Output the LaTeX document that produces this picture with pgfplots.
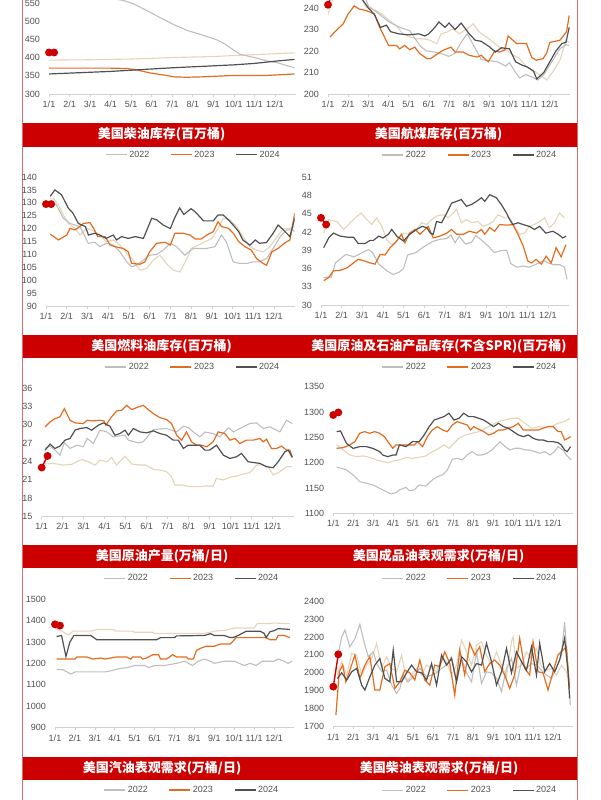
\documentclass[border=0pt]{standalone}
\usepackage{fontspec}
\setmainfont{Liberation Sans}
\newfontfamily\cjk{Noto Sans CJK SC}
\usepackage{pgfplots}
\pgfplotsset{compat=1.18}
\definecolor{c21}{RGB}{228,212,184}
\definecolor{c22}{RGB}{190,190,190}
\definecolor{c23}{RGB}{228,108,30}
\definecolor{c24}{RGB}{80,80,80}
\definecolor{c25}{RGB}{204,0,0}
\definecolor{barred}{RGB}{204,0,0}
\definecolor{lblgray}{RGB}{80,80,80}
\definecolor{axgray}{RGB}{210,210,210}
\definecolor{border}{RGB}{214,110,110}
\pgfplotsset{
  panel/.style={
    scale only axis, anchor=south west,
    xmin=0, xmax=12,
    axis lines*=left,
    y axis line style={draw=none},
    x axis line style={draw=axgray, line width=0.8pt},
    xtick style={draw=axgray, line width=0.6pt},
    ytick style={draw=none},
    tick align=outside,
    major tick length=2.5pt,
    xtick={0,...,11},
    xticklabels={1/1,2/1,3/1,4/1,5/1,6/1,7/1,8/1,9/1,10/1,11/1,12/1},
    tick label style={font=\fontsize{9}{10}\selectfont, text=lblgray},
    xticklabel style={anchor=base, inner sep=0pt, yshift=-10.8pt},
    yticklabel style={anchor=east, inner sep=0pt, xshift=-6.5pt},
    /pgf/number format/assume math mode=true,
    /pgf/number format/1000 sep={},
    scaled y ticks=false,
    legend style={draw=none, fill=none, inner sep=0pt, anchor=center,
      font=\fontsize{9}{10}\selectfont, text=lblgray,
      legend columns=3, /tikz/every even column/.append style={column sep=19pt}},
    legend image code/.code={\draw[##1, line width=1.1pt] (0pt,0pt) -- (21pt,0pt);},
  },
  s21/.style={color=c21, line width=1.1pt, forget plot},
  s22/.style={color=c22, line width=1.1pt},
  s23/.style={color=c23, line width=1.2pt},
  s24/.style={color=c24, line width=1.2pt},
  s25/.style={color=c25, line width=1.4pt, mark=*, mark size=3.2pt, mark options={fill=c25, draw=c25, solid}, forget plot},
}
\begin{document}
\begin{tikzpicture}
\path[use as bounding box] (0pt,0pt) rectangle (600pt,-800pt);
\clip (0pt,0pt) rectangle (600pt,-800pt);

% frame lines
\draw[border, line width=0.8pt] (22.5pt,0pt) -- (22.5pt,-800pt);
\draw[border, line width=0.8pt] (577pt,0pt) -- (577pt,-800pt);

% red title bars
\fill[barred] (23pt,-122.5pt) rectangle (577pt,-146.5pt);
\fill[barred] (23pt,-334.5pt) rectangle (577pt,-358pt);
\fill[barred] (23pt,-545pt) rectangle (577pt,-567.5pt);
\fill[barred] (23pt,-757pt) rectangle (577pt,-779.5pt);
\tikzset{ttl/.style={text=white, font=\cjk\bfseries\fontsize{13}{14}\selectfont, inner sep=0pt}}
\node[ttl] at (161.5pt,-134.5pt) {美国柴油库存(百万桶)};
\node[ttl] at (438.5pt,-134.5pt) {美国航煤库存(百万桶)};
\node[ttl] at (161.5pt,-346.5pt) {美国燃料油库存(百万桶)};
\node[ttl] at (439pt,-346.5pt) {美国原油及石油产品库存(不含SPR)(百万桶)};
\node[ttl] at (162pt,-556.5pt) {美国原油产量(万桶/日)};
\node[ttl] at (438.5pt,-556.5pt) {美国成品油表观需求(万桶/日)};
\node[ttl] at (162pt,-768pt) {美国汽油表观需求(万桶/日)};
\node[ttl] at (439pt,-768pt) {美国柴油表观需求(万桶/日)};

% ===== P1 diesel inventory
\begin{axis}[panel, at={(49pt,-94pt)}, width=246.5pt, height=127.5pt,
  ymin=300, ymax=650, ytick={300,350,...,550},
  legend style={at={(0.586,-0.478)}}]
\addplot[s21] coordinates {(0,393) (2,394) (4,396) (6,400) (8,403) (10,408) (11.95,413)};
\addplot[s22] coordinates {(0,612) (1,600) (2,585) (3,563) (3.6,557) (4.1,548) (4.9,525) (5.7,501) (6.1,490) (6.7,475) (7.4,463) (7.9,454) (8.2,448) (8.6,436) (9.0,420) (9.3,409) (10.0,400) (10.6,391) (11.1,386) (11.95,372)};
\addplot[s23] coordinates {(0,371) (3.0,371) (3.8,370) (4.3,366) (4.9,358) (5.7,351) (6.1,347) (6.7,346) (7.4,347) (8.2,349) (9.0,351) (10.6,351) (11.95,355)};
\addplot[s24] coordinates {(0,355) (3,362) (6,372) (9,380) (10,384) (11,390) (11.95,395)};
\addplot[s25] coordinates {(0,414) (0.25,414)};
\legend{2022,2023,2024}
\end{axis}

% ===== P2 jet fuel inventory
\begin{axis}[panel, at={(328pt,-94pt)}, width=242pt, height=129pt,
  ymin=200, ymax=260, ytick={200,210,...,240},
  legend style={at={(0.587,-0.473)}}]
\addplot[s21] coordinates {(0,237) (0.2,243) (0.5,250) (1.0,252) (1.5,247) (1.9,240.3) (2.4,238.8) (2.7,237) (3.05,234) (3.4,231.8) (3.7,228) (4.05,226.5) (4.4,225.7) (4.7,225.7) (5.05,225) (5.4,223.4) (5.6,228) (5.9,228.8) (6.2,230.3) (6.5,228) (6.9,230.3) (7.2,232.6) (7.5,228.8) (7.85,226.5) (8.2,224.2) (8.5,221.8) (8.85,220.3) (9.2,218) (9.5,216.5) (9.85,212.6) (10.2,211) (10.5,208.8) (10.85,206.5) (11.15,210.3) (11.5,215.7) (11.8,225) (11.95,224)};
\addplot[s22] coordinates {(0,255) (1,252) (1.8,246) (2.0,241) (2.56,237) (3.05,233.4) (3.55,231) (4.05,229.5) (4.3,226) (4.6,222) (4.9,220) (5.3,219.5) (5.7,218.5) (6.0,217.5) (6.3,219) (6.6,224) (6.9,228) (7.2,223) (7.6,216) (8.0,215.5) (8.4,215) (8.8,213) (9.0,214.5) (9.3,210) (9.5,207.5) (9.8,209) (10.1,208) (10.4,206.5) (10.7,209) (11.1,215) (11.5,221) (11.8,223) (11.95,222.5)};
\addplot[s23] coordinates {(0.1,226.5) (0.4,229.5) (0.75,232.6) (1.0,237.2) (1.3,241) (1.55,239.5) (1.9,238.8) (2.3,237.2) (2.56,231) (2.8,226.5) (3.0,222.6) (3.4,222.6) (3.55,221) (3.8,222.6) (4.05,220.6) (4.3,221.8) (4.55,218.8) (4.9,216.5) (5.1,216.5) (5.45,218.8) (5.7,220.3) (6.1,221.8) (6.3,219.5) (6.7,219.5) (7.0,218) (7.4,217.2) (7.6,218) (7.85,215.7) (7.95,215) (8.27,220) (8.5,219.5) (8.77,220.5) (8.93,227) (9.35,223.5) (9.84,223.5) (10.1,217) (10.34,215.7) (10.67,216.5) (10.84,219) (11.0,224) (11.5,225) (11.83,229) (11.96,236.5)};
\addplot[s24] coordinates {(0,252) (1,250) (1.7,244) (2.0,240) (2.3,237) (2.6,231) (2.9,232) (3.1,229) (3.5,228) (4.0,227.5) (4.5,228) (4.8,227) (5.0,228) (5.3,231) (5.5,233.5) (5.8,231) (6.0,233) (6.3,230) (6.6,233) (7.0,228) (7.3,225) (7.6,224.5) (8.0,222) (8.3,219.5) (8.6,221.5) (9.0,221) (9.3,215) (9.6,213.5) (9.9,212.5) (10.2,210.5) (10.35,207) (10.7,210) (11.0,215) (11.3,220) (11.6,223.5) (11.8,224) (11.96,231)};
\addplot[s25] coordinates {(0,241.5) (0.25,248)};
\legend{2022,2023,2024}
\end{axis}

% ===== P3 fuel oil inventory
\begin{axis}[panel, at={(46pt,-306pt)}, width=248.7pt, height=129pt,
  ymin=90, ymax=140, ytick={90,95,...,140},
  legend style={at={(0.591,-0.473)}}]
\addplot[s21] coordinates {(0.2,131.8) (0.35,131.8) (0.6,129.2) (0.84,125.3) (1.08,122) (1.4,120.1) (1.64,117.5) (1.96,120.1) (2.2,119.5) (2.6,117.5) (2.9,114.9) (3.25,115.6) (3.57,113.6) (3.9,110.4) (4.2,107.8) (4.53,103.9) (4.85,104.5) (5.18,107.8) (5.5,109.7) (5.8,106.5) (6.14,103.9) (6.46,103.2) (6.8,108.4) (7.0,112.3) (7.35,113.6) (7.67,114.9) (8.0,116.2) (8.3,120.1) (8.55,124) (8.87,123.4) (9.2,120.8) (9.5,116.9) (9.84,113) (10.16,111.7) (10.48,111) (10.8,113) (11.1,116.2) (11.45,120.1) (11.77,120.1) (12,120.8)};
\addplot[s22] coordinates {(0.2,130.5) (0.5,129.2) (0.84,124) (1.16,122) (1.64,120.8) (2.04,114.3) (2.36,114.7) (2.6,113) (2.9,114.3) (3.25,113.6) (3.57,111) (3.9,107.1) (4.13,105.2) (4.37,105.8) (4.7,107.8) (5.0,109.7) (5.34,110) (5.66,111.7) (6.0,114.3) (6.3,113) (6.7,109.7) (7.1,112.3) (7.43,112.3) (7.75,112.3) (8.15,113) (8.47,117.5) (8.7,114.9) (9.03,107.1) (9.36,106.5) (9.68,106.5) (10.0,107.1) (10.3,107.1) (10.64,108.4) (10.96,112.3) (11.3,116.9) (11.6,119.5) (11.9,119.5) (12,118.8)};
\addplot[s23] coordinates {(0.2,117.9) (0.6,115.6) (1.0,117.5) (1.16,120.1) (1.4,119.5) (1.64,120.8) (1.8,122) (2.12,122.3) (2.3,120.1) (2.5,116.9) (2.85,116.9) (3.1,113.6) (3.33,113) (3.73,112.3) (3.97,111) (4.13,106.5) (4.53,106.2) (4.77,107.1) (5.0,111) (5.34,114.3) (5.74,114.7) (6.0,113.6) (6.22,118.2) (6.62,118.2) (6.95,117.5) (7.2,116) (7.5,116) (7.75,117.5) (8.07,118.8) (8.3,122.7) (8.47,120.8) (8.8,120.1) (9.04,118.2) (9.3,114.9) (9.6,113) (9.9,111.7) (10.16,108.4) (10.48,106.5) (10.64,105.8) (10.9,111) (11.2,112.3) (11.5,114.3) (11.77,115.6) (12,126)};
\addplot[s24] coordinates {(0.2,132.5) (0.43,135) (0.75,133.1) (1.08,127.9) (1.3,126) (1.56,122) (1.9,120.8) (2.05,117.5) (2.35,118.2) (2.6,117.5) (2.9,116.2) (3.25,117.5) (3.4,115.6) (3.65,116.9) (3.97,116.2) (4.3,116.9) (4.7,116.2) (5.1,124) (5.34,123.4) (5.65,121.4) (6.0,120) (6.2,124) (6.45,128) (6.65,125.5) (7.0,127.7) (7.2,126.5) (7.6,123) (8.07,123) (8.3,125.3) (8.55,125.3) (8.8,123.4) (9.03,121.4) (9.3,118.8) (9.5,115.6) (9.84,113.6) (10.1,115.6) (10.3,114.3) (10.64,114.6) (10.96,118.2) (11.2,121.4) (11.45,119.5) (11.77,116.9) (12,124)};
\addplot[s25] coordinates {(0,129.5) (0.25,129.5)};
\legend{2022,2023,2024}
\end{axis}

% ===== P4 crude + products ex SPR
\begin{axis}[panel, at={(321pt,-305pt)}, width=247.5pt, height=128pt,
  ymin=30, ymax=51, ytick={30,33,...,51},
  legend style={at={(0.602,-0.484)}}]
\addplot[s21] coordinates {(0.13,41.8) (0.37,44.0) (0.77,43.7) (1.1,42.4) (1.42,43.5) (1.66,44.3) (1.95,45.1) (2.22,44.0) (2.46,43.2) (2.7,44.3) (2.95,42.9) (3.19,40.7) (3.43,39.9) (3.67,40.4) (4.0,41.8) (4.3,41.6) (4.64,42.4) (4.88,43.5) (5.12,43.2) (5.36,44.0) (5.6,44.6) (5.93,44.8) (6.17,44.3) (6.41,45.1) (6.57,45.7) (6.8,43.5) (7.05,44.0) (7.3,43.5) (7.6,43.7) (7.86,42.9) (8.1,43.2) (8.34,43.7) (8.58,44.8) (8.9,44.3) (9.15,44.3) (9.39,42.9) (9.63,41.6) (9.87,41.8) (10.1,42.9) (10.35,43.2) (10.6,43.7) (10.84,44.3) (11.08,42.7) (11.32,43.5) (11.56,45.1) (11.8,44.3)};
\addplot[s22] coordinates {(0.13,34.5) (0.5,34.6) (0.7,36.9) (1.2,38.3) (1.6,37.9) (2.0,38.6) (2.3,39.1) (2.5,38.6) (2.8,36.7) (3.2,35.6) (3.5,35.0) (3.8,35.4) (4.0,36.0) (4.2,38.2) (4.6,38.6) (5.0,39.6) (5.4,40.4) (5.8,40.8) (6.1,40.9) (6.3,41.5) (6.5,40.2) (6.7,41.3) (7.0,40.0) (7.3,40.3) (7.5,41.4) (7.8,40.6) (8.1,39.7) (8.4,38.6) (8.7,38.9) (9.0,39.0) (9.2,36.8) (9.5,36.2) (9.8,36.4) (10.1,36.2) (10.5,36.8) (10.8,37.3) (11.0,36.9) (11.3,36.6) (11.6,36.6) (11.8,36.2) (11.93,34.2)};
\addplot[s23] coordinates {(0.13,34.0) (0.37,34.5) (0.6,35.6) (0.93,35.7) (1.26,36.1) (1.58,36.9) (1.8,37.5) (2.14,37.2) (2.38,36.9) (2.62,36.7) (2.87,38.3) (3.1,38.2) (3.35,39.4) (3.6,40.2) (3.9,41.6) (4.07,40.2) (4.3,41.8) (4.56,42.4) (4.8,41.6) (5.04,42.4) (5.2,42.9) (5.44,41.0) (5.76,41.3) (6.1,41.8) (6.33,42.4) (6.57,41.6) (6.9,41.6) (7.2,42.1) (7.54,41.8) (7.78,42.4) (7.94,41.6) (8.18,42.7) (8.42,42.1) (8.66,43.2) (9.0,43.1) (9.3,43.2) (9.55,41.6) (9.8,39.7) (10.03,37.2) (10.2,36.9) (10.43,37.5) (10.68,36.7) (10.92,38.0) (11.16,36.9) (11.4,39.4) (11.64,37.9) (11.88,39.9)};
\addplot[s24] coordinates {(0.13,39.4) (0.37,41.0) (0.6,41.8) (0.93,41.3) (1.34,41.1) (1.58,41.1) (1.8,40.1) (2.14,40.1) (2.38,40.6) (2.54,40.6) (2.8,41.3) (3.0,41.0) (3.27,41.6) (3.43,42.4) (3.67,41.3) (4.0,40.5) (4.3,41.6) (4.64,42.4) (4.9,42.9) (5.12,42.7) (5.3,41.8) (5.44,41.6) (5.6,43.7) (5.85,43.5) (6.1,45.1) (6.33,46.7) (6.57,47.0) (6.8,47.3) (7.05,46.2) (7.3,46.5) (7.54,47.0) (7.78,47.6) (7.94,47.0) (8.18,48.1) (8.5,47.6) (8.74,46.5) (8.99,45.1) (9.15,44.0) (9.3,43.2) (9.55,43.5) (9.8,43.2) (10.1,42.9) (10.35,42.4) (10.6,42.9) (10.9,41.8) (11.24,42.1) (11.5,41.6) (11.72,41.0) (11.88,41.3)};
\addplot[s25] coordinates {(0,44.3) (0.25,43.2)};
\legend{2022,2023,2024}
\end{axis}

% ===== P5 crude production
\begin{axis}[panel, at={(41.7pt,-516.5pt)}, width=251.8pt, height=128.5pt,
  ymin=15, ymax=36, ytick={15,18,...,36},
  legend style={at={(0.597,-0.479)}}]
\addplot[s21] coordinates {(0.16,23.57) (0.56,23.68) (1.03,23.41) (1.43,23.52) (1.90,24.33) (2.22,23.95) (2.54,23.41) (2.78,24.22) (3.10,23.95) (3.33,24.66) (3.57,23.41) (3.97,24.87) (4.29,23.57) (4.68,23.41) (4.95,23.41) (5.32,22.70) (5.63,22.60) (5.95,22.32) (6.19,21.51) (6.35,20.15) (6.67,20.15) (7.06,19.88) (7.54,19.88) (7.86,19.99) (8.17,19.99) (8.33,21.24) (8.65,20.97) (8.97,21.40) (9.29,21.62) (9.60,21.94) (9.92,22.16) (10.24,23.41) (10.56,23.41) (10.79,23.14) (11.03,21.78) (11.35,22.32) (11.67,23.14) (11.94,23.14)};
\addplot[s22] coordinates {(0.16,26.12) (0.40,26.50) (0.63,25.85) (0.87,25.04) (1.08,27.04) (1.35,26.12) (1.67,26.66) (1.98,26.39) (2.17,27.75) (2.46,26.94) (2.78,29.11) (3.10,28.83) (3.41,28.02) (3.97,28.29) (4.13,27.48) (4.60,27.04) (4.84,27.21) (5.32,29.21) (5.95,29.38) (6.43,28.83) (6.75,29.76) (6.98,29.54) (7.22,28.83) (7.54,28.02) (7.78,28.8) (8.17,28.56) (8.49,28.02) (8.89,29.5) (9.13,28.83) (9.60,29.65) (9.92,30.19) (10.24,30.3) (10.56,29.38) (10.87,29.65) (11.19,29.11) (11.35,28.83) (11.67,30.73) (11.94,30.19)};
\addplot[s23] coordinates {(0.16,29.65) (0.40,30.46) (0.63,31.0) (0.87,31.28) (1.08,32.63) (1.35,30.73) (1.59,30.30) (1.98,30.19) (2.17,30.73) (2.46,30.62) (2.78,30.73) (2.97,30.62) (3.06,29.92) (3.33,31.28) (3.57,32.25) (3.81,32.36) (4.05,33.17) (4.29,32.47) (4.60,32.90) (4.84,33.17) (5.08,32.47) (5.32,31.82) (5.63,31.17) (5.95,30.84) (6.19,30.19) (6.43,28.29) (6.67,27.48) (6.90,28.83) (7.14,27.21) (7.38,26.66) (7.62,26.66) (7.86,26.39) (8.17,27.21) (8.41,28.83) (8.73,28.56) (8.97,27.48) (9.21,27.75) (9.44,26.94) (9.76,27.48) (10.08,27.48) (10.40,27.75) (10.56,27.21) (10.71,27.64) (10.95,26.12) (11.19,26.12) (11.43,26.50) (11.67,25.85) (11.83,25.85) (11.94,24.66)};
\addplot[s24] coordinates {(0.16,25.85) (0.40,26.83) (0.63,26.12) (0.87,26.50) (1.11,27.48) (1.35,27.75) (1.59,29.11) (1.83,29.38) (2.14,29.54) (2.38,29.11) (2.70,29.92) (2.94,30.30) (3.25,29.76) (3.49,28.29) (3.73,28.56) (3.97,29.11) (4.13,28.29) (4.37,29.38) (4.68,28.83) (5.0,28.67) (5.32,29.0) (5.63,28.56) (5.95,28.29) (6.27,27.48) (6.51,27.48) (6.75,26.12) (6.98,26.66) (7.22,26.66) (7.54,26.66) (7.78,25.85) (8.0,25.85) (8.33,26.66) (8.65,25.04) (8.97,24.49) (9.29,24.77) (9.52,25.31) (9.84,23.95) (10.16,23.79) (10.40,23.68) (10.71,23.14) (11.03,22.97) (11.27,23.95) (11.59,25.58) (11.75,25.85) (11.94,24.66)};
\addplot[s25] coordinates {(0,23.0) (0.28,24.9)};
\legend{2022,2023,2024}
\end{axis}

% ===== P6 product demand
\begin{axis}[panel, at={(333.3pt,-513.3pt)}, width=239.7pt, height=126.7pt,
  ymin=1100, ymax=1350, ytick={1100,1150,...,1350},
  legend style={at={(0.570,-0.511)}}]
\addplot[s21] coordinates {(0.17,1234.9) (0.50,1225.0) (0.83,1215.1) (1.16,1211.8) (1.49,1213.2) (1.82,1210.5) (2.15,1205.3) (2.48,1202.0) (2.73,1200.0) (3.06,1203.9) (3.31,1205.3) (3.64,1210.5) (3.97,1208.6) (4.30,1210.5) (4.63,1213.2) (4.96,1221.7) (5.29,1228.3) (5.54,1234.9) (5.79,1228.3) (6.04,1238.2) (6.29,1248.0) (6.62,1254.6) (6.95,1257.9) (7.28,1261.2) (7.61,1267.8) (7.94,1274.3) (8.27,1280.9) (8.60,1284.2) (8.93,1287.5) (9.26,1287.5) (9.59,1277.6) (9.93,1267.8) (10.26,1271.1) (10.59,1269.7) (10.92,1271.1) (11.25,1277.6) (11.58,1280.9) (11.83,1287.5)};
\addplot[s22] coordinates {(0.17,1190.8) (0.41,1188.8) (0.66,1185.5) (0.99,1175.7) (1.32,1162.5) (1.65,1159.2) (1.99,1155.9) (2.32,1149.3) (2.65,1142.8) (2.89,1138.2) (3.14,1140.8) (3.31,1146.1) (3.64,1151.3) (3.80,1144.7) (4.05,1146.1) (4.30,1155.9) (4.63,1153.9) (4.96,1165.8) (5.21,1172.4) (5.46,1175.7) (5.71,1185.5) (5.96,1206.6) (6.20,1208.6) (6.45,1205.3) (6.70,1215.1) (6.95,1221.7) (7.20,1215.1) (7.44,1215.1) (7.69,1218.4) (7.94,1225.0) (8.11,1231.6) (8.35,1241.4) (8.60,1231.6) (8.85,1225.0) (9.10,1228.3) (9.35,1228.3) (9.59,1225.0) (9.84,1225.0) (10.09,1221.7) (10.34,1218.4) (10.59,1221.7) (10.84,1215.1) (11.08,1221.7) (11.25,1231.6) (11.50,1225.0) (11.66,1215.1) (11.83,1208.6) (11.91,1205.3)};
\addplot[s23] coordinates {(0.17,1228.3) (0.50,1229.6) (0.83,1234.9) (1.08,1241.4) (1.32,1257.9) (1.57,1261.2) (1.82,1257.9) (2.07,1261.2) (2.32,1257.9) (2.56,1251.3) (2.73,1241.4) (2.98,1228.3) (3.14,1234.9) (3.47,1234.9) (3.80,1234.9) (4.05,1234.9) (4.22,1241.4) (4.47,1231.6) (4.71,1251.3) (4.96,1264.5) (5.21,1271.1) (5.46,1264.5) (5.71,1261.2) (5.96,1274.3) (6.20,1280.9) (6.45,1277.6) (6.70,1274.3) (6.87,1264.5) (7.03,1271.1) (7.28,1265.8) (7.53,1261.2) (7.78,1254.6) (8.02,1257.9) (8.27,1264.5) (8.52,1264.5) (8.77,1267.8) (9.02,1271.1) (9.26,1277.6) (9.51,1264.5) (9.76,1264.5) (10.01,1264.5) (10.26,1264.5) (10.50,1267.8) (10.75,1271.1) (11.0,1271.1) (11.25,1261.2) (11.41,1261.2) (11.58,1244.7) (11.75,1248) (11.88,1251.3)};
\addplot[s24] coordinates {(0.17,1261) (0.36,1262.5) (0.66,1238) (0.99,1228) (1.32,1231.6) (1.65,1231.6) (1.99,1228) (2.32,1221.7) (2.48,1215) (2.73,1211.8) (2.98,1215) (3.14,1215) (3.31,1235) (3.64,1231.6) (3.97,1241.4) (4.30,1241.4) (4.55,1254.6) (4.80,1271) (5.05,1284) (5.29,1287.5) (5.54,1290.8) (5.79,1297.4) (6.04,1284) (6.29,1287.5) (6.53,1297.4) (6.78,1290.8) (7.03,1290.8) (7.28,1287.5) (7.53,1284) (7.78,1277.6) (8.02,1271) (8.27,1277.6) (8.52,1271) (8.77,1267.8) (9.02,1261) (9.26,1254.6) (9.51,1251.3) (9.76,1254.6) (10.01,1248) (10.26,1244.7) (10.50,1244.7) (10.75,1241.4) (11.0,1241.4) (11.25,1239.5) (11.41,1235) (11.58,1225) (11.71,1221.7) (11.88,1231.6)};
\addplot[s25] coordinates {(0,1294) (0.25,1299)};
\legend{2022,2023,2024}
\end{axis}

% ===== P7 gasoline demand
\begin{axis}[panel, at={(55pt,-727.7pt)}, width=239pt, height=128.7pt,
  ymin=900, ymax=1500, ytick={900,1000,...,1500},
  legend style={at={(0.573,-0.484)}}]
\addplot[s21] coordinates {(0,1363) (0.33,1351) (0.67,1332) (0.9,1350) (1.8,1350) (2.1,1358) (2.95,1358) (3.05,1350) (3.9,1350) (4.0,1345) (4.9,1345) (5.0,1340) (7.5,1340) (7.8,1345) (8.0,1350) (8.6,1355) (9.0,1365) (10.0,1365) (10.15,1385) (10.6,1385) (11.0,1388) (11.8,1385)};
\addplot[s22] coordinates {(0.08,1172) (0.4,1170) (0.8,1150) (1.0,1160) (1.5,1160) (2.5,1160) (2.8,1165) (3.2,1175) (3.6,1180) (4.0,1190) (4.5,1190) (4.7,1180) (5.0,1190) (5.5,1190) (5.8,1195) (6.1,1200) (6.5,1210) (6.7,1200) (6.9,1190) (7.2,1210) (7.5,1220) (7.8,1210) (8.0,1200) (8.5,1210) (9.0,1210) (9.5,1190) (9.8,1200) (10.1,1190) (10.4,1210) (11.0,1210) (11.2,1220) (11.5,1210) (11.7,1200) (11.9,1210)};
\addplot[s23] coordinates {(0.08,1220) (1.0,1220) (1.1,1230) (1.6,1230) (1.9,1220) (2.3,1225) (2.5,1220) (3.1,1230) (3.6,1230) (3.8,1220) (3.9,1230) (4.3,1230) (4.4,1220) (4.6,1225) (4.9,1240) (5.2,1240) (5.3,1220) (5.6,1220) (5.9,1240) (6.1,1230) (6.6,1230) (6.7,1220) (6.95,1220) (7.1,1260) (7.3,1270) (7.6,1280) (8.0,1280) (8.3,1290) (8.8,1290) (9.1,1320) (10.6,1320) (10.8,1310) (11.1,1310) (11.2,1330) (11.5,1330) (11.8,1320)};
\addplot[s24] coordinates {(0.08,1325) (0.33,1330) (0.55,1232) (0.75,1300) (0.95,1330) (1.8,1330) (2.1,1310) (5.1,1310) (5.3,1320) (6.0,1320) (6.1,1328) (7.5,1330) (7.8,1338) (8.0,1330) (8.5,1330) (8.8,1320) (9.0,1322) (9.3,1335) (9.6,1350) (10.3,1350) (10.5,1340) (10.6,1320) (10.8,1348) (11.0,1352) (11.2,1362) (11.8,1358)};
\addplot[s25] coordinates {(0,1382) (0.25,1376)};
\legend{2022,2023,2024}
\end{axis}

% ===== P8 diesel demand
\begin{axis}[panel, at={(333.3pt,-726.7pt)}, width=239.7pt, height=125.7pt,
  ymin=1700, ymax=2400, ytick={1700,1800,...,2400},
  legend style={at={(0.570,-0.504)}}]
\addplot[s21] coordinates {(0.2,1988) (0.42,2062) (0.67,1988) (0.92,2108) (1.17,2099) (1.42,1988) (1.67,2043) (1.92,2080) (2.17,2164) (2.42,2025) (2.67,2090) (2.92,2025) (3.17,2006) (3.42,2099) (3.67,1950) (3.92,1988) (4.17,2025) (4.42,1988) (4.67,2043) (4.92,2025) (5.17,2006) (5.42,2090) (5.67,2062) (5.92,1988) (6.17,2043) (6.42,2182) (6.67,2117) (6.92,2043) (7.17,2155) (7.42,2173) (7.67,2099) (7.92,2043) (8.17,2117) (8.42,2043) (8.67,1978) (8.92,2173) (9.0,2201) (9.17,2025) (9.42,2043) (9.67,2117) (9.92,2080) (10.17,2136) (10.42,2034) (10.67,2015) (10.92,2025) (11.17,1988) (11.42,2043) (11.67,2006) (11.83,1932)};
\addplot[s22] coordinates {(0.25,2108) (0.42,2200) (0.58,2238) (0.83,2145) (1.08,2190) (1.33,2270) (1.58,2155) (1.75,2090) (2.0,2117) (2.17,2052) (2.42,2006) (2.67,2015) (2.92,1932) (3.17,1885) (3.33,1913) (3.5,1988) (3.75,1950) (4.0,1978) (4.33,2025) (4.67,1978) (4.92,1988) (5.17,2000) (5.42,2025) (5.67,2043) (5.92,2090) (6.17,1950) (6.42,2080) (6.67,2000) (6.92,1950) (7.17,2117) (7.42,1941) (7.67,2006) (7.92,2000) (8.17,1969) (8.42,1895) (8.67,2025) (8.92,2080) (9.17,1932) (9.42,2062) (9.67,2025) (9.92,2052) (10.17,2043) (10.42,2015) (10.67,1988) (10.92,1969) (11.17,2025) (11.42,2099) (11.58,2284) (11.75,2015) (11.87,1820)};
\addplot[s23] coordinates {(0.13,1765) (0.3,2006) (0.47,2043) (0.63,1950) (0.83,2015) (1.08,2099) (1.33,1969) (1.58,2043) (1.83,2090) (2.08,1904) (2.33,1904) (2.58,2034) (2.83,2052) (3.08,1913) (3.33,1950) (3.58,2015) (3.83,2000) (4.08,1960) (4.33,2071) (4.58,1960) (4.83,1932) (5.08,2043) (5.33,2034) (5.58,2117) (5.83,2052) (6.08,1876) (6.33,2127) (6.58,1988) (6.83,2164) (7.08,2099) (7.33,2145) (7.58,2006) (7.83,2052) (8.08,2071) (8.33,2043) (8.58,1988) (8.83,1913) (9.08,1988) (9.33,2192) (9.58,2025) (9.83,1988) (10.0,2173) (10.25,2006) (10.5,2000) (10.75,1904) (11.0,2006) (11.25,2099) (11.5,2127) (11.67,2145) (11.83,1913)};
\addplot[s24] coordinates {(0.2,1969) (0.42,2000) (0.67,1960) (0.92,2006) (1.17,2025) (1.42,1932) (1.58,1904) (1.83,1978) (2.08,2043) (2.33,2080) (2.58,1969) (2.83,1950) (3.0,2127) (3.17,1950) (3.42,1950) (3.67,2000) (3.92,2043) (4.17,2006) (4.42,2000) (4.67,1960) (4.92,2052) (5.17,1932) (5.42,2099) (5.67,2043) (5.92,2080) (6.17,1950) (6.42,2090) (6.67,2062) (6.92,2006) (7.17,2052) (7.42,2043) (7.67,2164) (7.92,2062) (8.17,1932) (8.42,2006) (8.67,2136) (8.92,2000) (9.17,2117) (9.42,2062) (9.67,2015) (9.92,2145) (10.17,1988) (10.33,2164) (10.58,2006) (10.83,2052) (11.08,2006) (11.33,2071) (11.58,2192) (11.75,2006) (11.83,1858)};
\addplot[s25] coordinates {(0,1923) (0.25,2103)};
\legend{2022,2023,2024}
\end{axis}
\end{tikzpicture}
\end{document}
